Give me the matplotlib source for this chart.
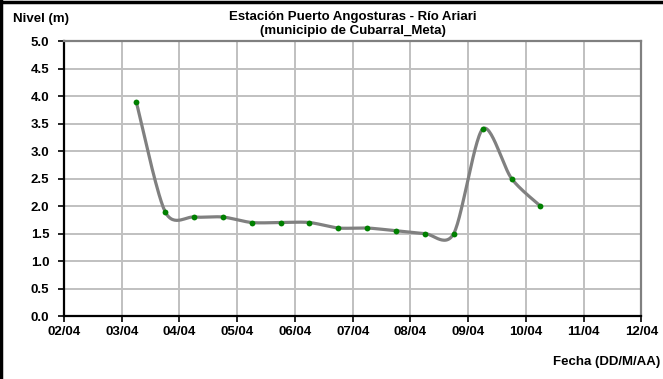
import datetime as dt

import matplotlib
matplotlib.use("Agg")
import matplotlib.pyplot as plt
import matplotlib.dates as mdates
from matplotlib.lines import Line2D
import numpy as np

plt.rcParams.update({
    "font.family": ["Liberation Sans", "DejaVu Sans"],
    "font.weight": "bold",
    "font.size": 9.5,
})

# Readings (06:00 and 18:00)
read_times = [
    "2011-04-03 06:00", "2011-04-03 18:00", "2011-04-04 06:00", "2011-04-04 18:00",
    "2011-04-05 06:00", "2011-04-05 18:00", "2011-04-06 06:00", "2011-04-06 18:00",
    "2011-04-07 06:00", "2011-04-07 18:00", "2011-04-08 06:00", "2011-04-08 18:00",
    "2011-04-09 06:00", "2011-04-09 18:00", "2011-04-10 06:00",
]
nivel = [3.9, 1.9, 1.8, 1.8, 1.7, 1.7, 1.7, 1.6, 1.6, 1.55, 1.5, 1.5, 3.4, 2.5, 2.0]

x_start = dt.datetime(2011, 4, 2)
x_end = dt.datetime(2011, 4, 12)
y_ticks = [0.0, 0.5, 1.0, 1.5, 2.0, 2.5, 3.0, 3.5, 4.0, 4.5, 5.0]


def smooth_line(x, y, n=30, k=1 / 7):
    """Excel-style smoothed line (Catmull-Rom as cubic Bezier)."""
    x = np.asarray(x, float)
    y = np.asarray(y, float)
    px = np.concatenate([[x[0]], x, [x[-1]]])
    py = np.concatenate([[y[0]], y, [y[-1]]])
    xs, ys = [], []
    t = np.linspace(0, 1, n)
    for i in range(1, len(px) - 2):
        p0 = np.array([px[i], py[i]])
        p3 = np.array([px[i + 1], py[i + 1]])
        c1 = p0 + (np.array([px[i + 1], py[i + 1]]) - np.array([px[i - 1], py[i - 1]])) * k
        c2 = p3 - (np.array([px[i + 2], py[i + 2]]) - np.array([px[i], py[i]])) * k
        b = (((1 - t) ** 3)[:, None] * p0 + (3 * (1 - t) ** 2 * t)[:, None] * c1
             + (3 * (1 - t) * t ** 2)[:, None] * c2 + (t ** 3)[:, None] * p3)
        xs.extend(b[:, 0])
        ys.extend(b[:, 1])
    return np.array(xs), np.array(ys)


dates = [dt.datetime.strptime(s, "%Y-%m-%d %H:%M") for s in read_times]
xnum = mdates.date2num(dates)
sx, sy = smooth_line(xnum, nivel)

fig = plt.figure(figsize=(6.63, 3.79), dpi=100)
ax = fig.add_axes([0.0965, 0.1662, 0.871, 0.7256])

ax.plot(sx, sy, color="#808080", linewidth=2.3, solid_capstyle="round", zorder=3)
ax.plot(xnum, nivel, linestyle="none", marker="o", markersize=4.2,
        color="#008000", markeredgewidth=0, zorder=4)

ax.set_xlim(x_start, x_end)
ax.set_ylim(0, 5)
ax.set_yticks(y_ticks)
ax.yaxis.set_major_formatter(plt.FormatStrFormatter("%.1f"))
ax.xaxis.set_major_locator(mdates.DayLocator())
ax.xaxis.set_major_formatter(mdates.DateFormatter("%d/%m"))

ax.grid(True, color="#c0c0c0", linewidth=1.4)
ax.set_axisbelow(True)
for side in ["left", "bottom"]:
    ax.spines[side].set_color("black")
    ax.spines[side].set_linewidth(1.6)
for side in ["right", "top"]:
    ax.spines[side].set_color("#808080")
    ax.spines[side].set_linewidth(1.6)

ax.tick_params(axis="y", direction="out", length=4.5, width=1.2, pad=6, labelsize=9.5)
ax.tick_params(axis="x", direction="out", length=4, width=1.2, pad=3.5, labelsize=9.5)

fig.text(0.532, 0.955, "Estación Puerto Angosturas - Río Ariari", ha="center", va="center",
         fontsize=9.5, fontweight="bold")
fig.text(0.532, 0.918, "(municipio de Cubarral_Meta)", ha="center", va="center",
         fontsize=9.5, fontweight="bold")
fig.text(0.019, 0.95, "Nivel (m)", ha="left", va="center", fontsize=9.5, fontweight="bold")
fig.text(0.996, 0.045, "Fecha (DD/M/AA)", ha="right", va="center", fontsize=9.5,
         fontweight="bold")

# outer frame (top and left edges)
fig.add_artist(Line2D([0.002, 0.002], [0, 1], transform=fig.transFigure, color="black", linewidth=2.5))
fig.add_artist(Line2D([0, 1], [0.996, 0.996], transform=fig.transFigure, color="black", linewidth=2.5))

fig.savefig("out.png", dpi=100)
